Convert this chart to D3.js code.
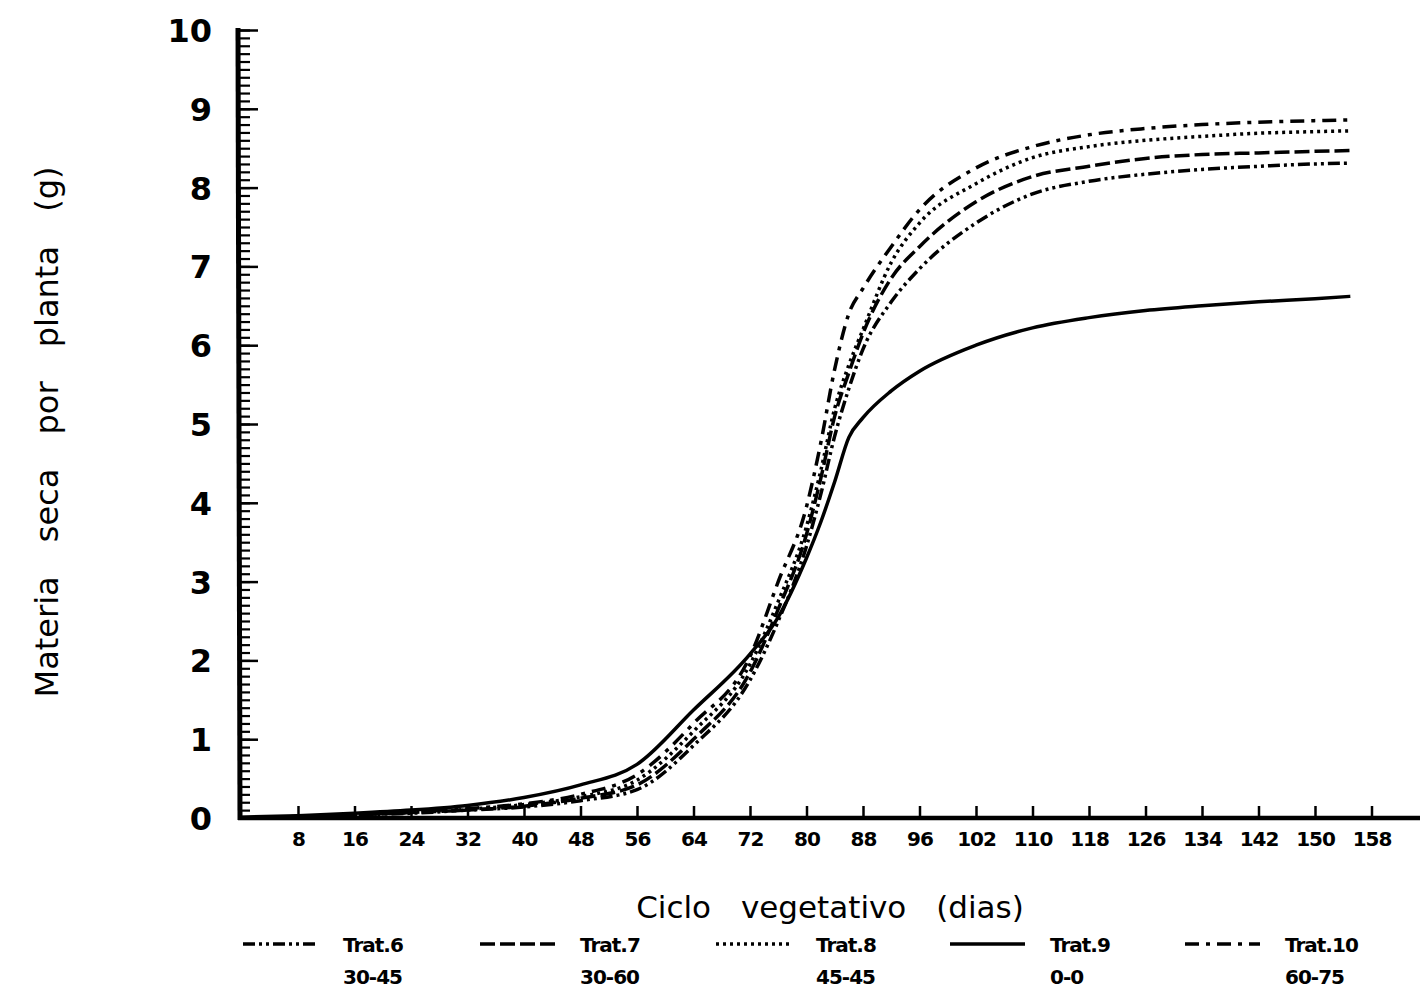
<!DOCTYPE html>
<html>
<head>
<meta charset="utf-8">
<script src="https://cdn.jsdelivr.net/npm/d3@7"></script>
<style>
  html, body { margin: 0; padding: 0; background: #fff; }
  svg { display: block; }
  text { fill: #000; }
</style>
</head>
<body>
<svg id="chart" width="1422" height="991"></svg>
<script>
// ---- data ----
const days = [0, 8, 16, 24, 32, 40, 48, 56, 64, 72, 76, 80, 82, 84, 86, 88, 92, 96, 102, 110, 118, 126, 134, 142, 150, 155];
const trat6  = [0.00, 0.02, 0.04, 0.06, 0.10, 0.14, 0.22, 0.36, 0.92, 1.75, 2.50, 3.45, 4.10, 4.85, 5.45, 5.95, 6.55, 6.97, 7.55, 7.92, 8.08, 8.17, 8.23, 8.27, 8.30, 8.31];
const trat7  = [0.00, 0.02, 0.04, 0.07, 0.10, 0.15, 0.25, 0.42, 1.00, 1.85, 2.65, 3.60, 4.30, 5.10, 5.65, 6.15, 6.85, 7.25, 7.82, 8.14, 8.27, 8.37, 8.42, 8.44, 8.46, 8.47];
const trat8  = [0.00, 0.02, 0.04, 0.07, 0.11, 0.17, 0.27, 0.48, 1.10, 1.95, 2.75, 3.70, 4.40, 5.20, 5.75, 6.20, 7.05, 7.55, 8.05, 8.38, 8.52, 8.60, 8.65, 8.69, 8.71, 8.72];
const trat9  = [0.01, 0.03, 0.06, 0.10, 0.16, 0.26, 0.42, 0.68, 1.37, 2.08, 2.55, 3.30, 3.75, 4.27, 4.83, 5.08, 5.42, 5.67, 6.00, 6.22, 6.35, 6.44, 6.50, 6.55, 6.59, 6.62];
const trat10 = [0.00, 0.02, 0.04, 0.08, 0.12, 0.18, 0.30, 0.55, 1.20, 2.05, 3.00, 3.95, 4.75, 5.70, 6.40, 6.72, 7.25, 7.72, 8.25, 8.52, 8.67, 8.75, 8.80, 8.83, 8.85, 8.86];
const seriesNames = ["Trat.6", "Trat.7", "Trat.8", "Trat.9", "Trat.10"];
const seriesSub   = ["30-45", "30-60", "45-45", "0-0", "60-75"];
const xTicks = [8, 16, 24, 32, 40, 48, 56, 64, 72, 80, 88, 96, 102, 110, 118, 126, 134, 142, 150, 158];
const yTicks = [0, 1, 2, 3, 4, 5, 6, 7, 8, 9, 10];
const xTitle = "Ciclo vegetativo (dias)";
const yTitle = "Materia seca por planta (g)";

// ---- styles (not data) ----
const dashes = ["12,4,3,4,3,4", "15,5", "3,4", null, "14,7,4,7"];

const svg = d3.select("#chart");
const x = d3.scaleLinear().domain([0, 96, 102, 158]).range([241.5, 919.5, 976, 1371.5]);
const y = d3.scaleLinear().domain([0, 10]).range([818, 30]);

const font = "'DejaVu Sans', sans-serif";

// y axis minor ticks
const gyMinor = svg.append("g").attr("transform", "translate(240,0)")
  .call(d3.axisLeft(y).tickValues(d3.range(0, 100.5, 1).map(d => d / 10)).tickSize(-10).tickFormat(""));
gyMinor.select(".domain").remove();
gyMinor.selectAll("line").attr("stroke", "#000").attr("stroke-width", 2.2);

// y axis major
const gy = svg.append("g").attr("transform", "translate(240,0)")
  .call(d3.axisLeft(y).tickValues(yTicks).tickSize(-18).tickPadding(28).tickFormat(d3.format("d")));
gy.select(".domain").remove();
gy.selectAll("line").attr("stroke", "#000").attr("stroke-width", 2.5);
gy.selectAll("text").attr("font-family", font).attr("font-weight", "bold").attr("font-size", 32).attr("dy", "0.36em");
svg.append("line").attr("x1", 238).attr("x2", 240).attr("y1", 28).attr("y2", 820)
  .attr("stroke", "#000").attr("stroke-width", 5);

// x axis
const gx = svg.append("g").attr("transform", "translate(0,818)")
  .call(d3.axisBottom(x).tickValues(xTicks).tickSize(-12).tickPadding(14));
gx.select(".domain").remove();
gx.selectAll("line").attr("stroke", "#000").attr("stroke-width", 2.5);
gx.selectAll("text").attr("font-family", font).attr("font-weight", "bold").attr("font-size", 20)
  .attr("letter-spacing", "-1px");
svg.append("line").attr("x1", 238).attr("x2", 1420).attr("y1", 818).attr("y2", 818)
  .attr("stroke", "#000").attr("stroke-width", 4.5);

// titles
svg.append("text").attr("x", 830).attr("y", 918).attr("text-anchor", "middle")
  .attr("font-family", font).attr("font-size", 31).attr("word-spacing", "20px").text(xTitle);
svg.append("text").attr("transform", "translate(58,432) rotate(-90)").attr("text-anchor", "middle")
  .attr("font-family", font).attr("font-size", 32).attr("word-spacing", "24px").text(yTitle);

// lines
const all = [trat6, trat7, trat8, trat9, trat10];
const line = d3.line().x((d, i) => x(days[i])).y(d => y(d)).curve(d3.curveMonotoneX);
all.forEach((vals, k) => {
  svg.append("path").datum(vals).attr("d", line)
    .attr("fill", "none").attr("stroke", "#000").attr("stroke-width", 3.5)
    .attr("stroke-linecap", "butt")
    .attr("stroke-dasharray", dashes[k]);
});

// legend
const lx = [243, 480, 716, 950, 1185];
seriesNames.forEach((n, k) => {
  const g = svg.append("g").attr("transform", `translate(${lx[k]},0)`);
  g.append("line").attr("x1", 0).attr("x2", 75).attr("y1", 944).attr("y2", 944)
    .attr("stroke", "#000").attr("stroke-width", 3.5).attr("stroke-dasharray", dashes[k]);
  g.append("text").attr("x", 100).attr("y", 952).attr("font-family", font).attr("font-weight", "bold")
    .attr("font-size", 20).attr("letter-spacing", "-1px").text(n);
  g.append("text").attr("x", 100).attr("y", 984).attr("font-family", font).attr("font-weight", "bold")
    .attr("font-size", 20).attr("letter-spacing", "-1px").text(seriesSub[k]);
});
</script>
</body>
</html>
